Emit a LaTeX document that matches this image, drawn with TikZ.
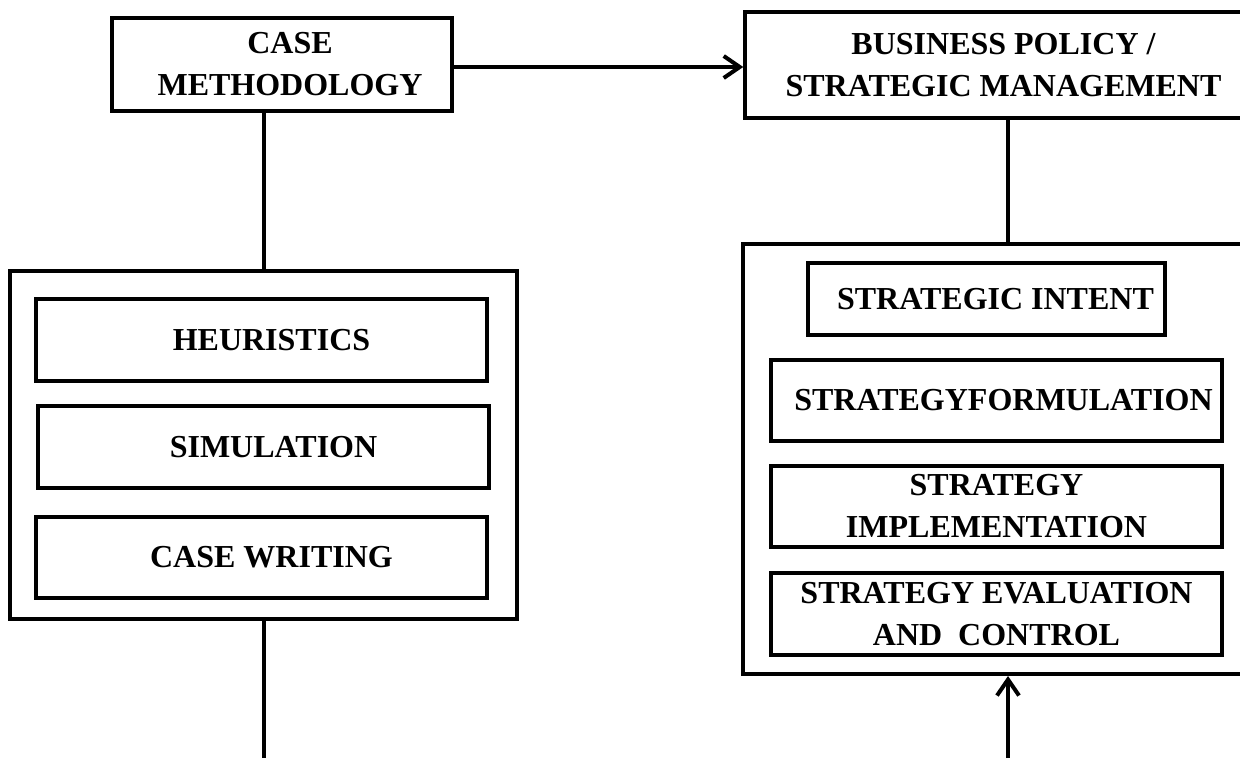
\documentclass[tikz,border=0pt]{standalone}
\usepackage{fontspec}
\setmainfont{Liberation Serif}
\usetikzlibrary{arrows.meta}
\newcommand{\padl}[1]{\hspace*{#1}}
\begin{document}
\begin{tikzpicture}[x=1pt,y=-1pt,
  lbl/.style={font=\fontsize{32}{42}\selectfont\bfseries, align=center},
  box/.style={draw, line width=3.5pt, inner sep=0pt, lbl},
  frame/.style={draw, line width=4pt, inner sep=0pt},
  link/.style={line width=4pt},
  arr/.style={link, -{Straight Barb[length=16pt,width=22pt]}}]
\useasboundingbox (0,0) rectangle (1240,758);
\clip (0,0) rectangle (1240,758);

% top row
\node[box, minimum width=340pt, minimum height=93pt] (cm) at (282,64.5) {\padl{16pt}CASE\\\padl{16pt}METHODOLOGY};
\node[box, minimum width=517pt, minimum height=106pt] (bp) at (1003.5,65) {BUSINESS POLICY /\\STRATEGIC MANAGEMENT};

% left group
\node[frame, minimum width=507pt, minimum height=348pt] (lbox) at (263.5,445) {};
\node[box, minimum width=451pt, minimum height=82pt] (heu) at (261.5,340) {\padl{20pt}HEURISTICS};
\node[box, minimum width=451pt, minimum height=82pt] (sim) at (263.5,447) {\padl{20pt}SIMULATION};
\node[box, minimum width=451pt, minimum height=81pt] (cw) at (261.5,557.5) {\padl{20pt}CASE WRITING};

% right group
\node[frame, minimum width=530pt, minimum height=430pt] (rbox) at (1008,459) {};
\node[box, minimum width=357pt, minimum height=72pt] (si) at (986.5,299) {\padl{18pt}STRATEGIC INTENT};
\node[box, minimum width=451pt, minimum height=81pt] (sf) at (996.5,400.5) {\padl{14pt}STRATEGYFORMULATION};
\node[box, minimum width=451pt, minimum height=81pt] (simp) at (996.5,506.5) {STRATEGY\\IMPLEMENTATION};
\node[box, minimum width=451pt, minimum height=82pt] (sec) at (996.5,614) {STRATEGY EVALUATION\\AND\ \ CONTROL};

% loose ends at the lower edge
\coordinate (lend) at (263.5,758);
\coordinate (rend) at (1008,758);

% connectors
\draw[arr] (cm.east |- 0,67) -- (bp.west |- 0,67);
\draw[link] (cm.south -| lbox.north) -- (lbox.north);
\draw[link] (lbox.south) -- (lend);
\draw[link] (bp.south -| rbox.north) -- (rbox.north);
\draw[arr] (rend) -- (rbox.south);
\end{tikzpicture}
\end{document}
